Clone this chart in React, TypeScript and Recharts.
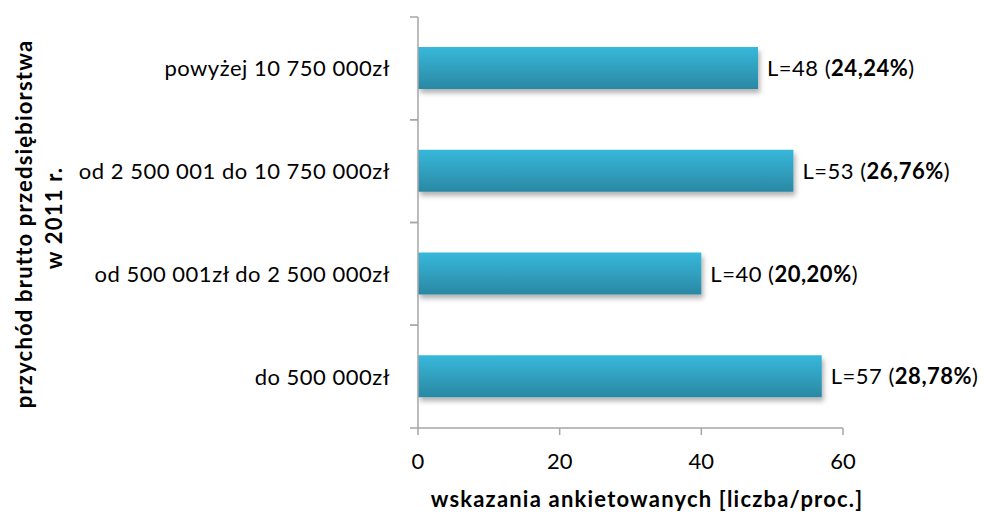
import { BarChart, Bar, XAxis, YAxis, LabelList, Label } from 'recharts';

// kolejność od góry do dołu (tak jak na wykresie)
const categories = [
  'powyżej 10 750 000zł',
  'od 2 500 001 do 10 750 000zł',
  'od 500 001zł do 2 500 000zł',
  'do 500 000zł',
];
const counts = [48, 53, 40, 57];
const percents = ['24,24%', '26,76%', '20,20%', '28,78%'];
const xTicks = [0, 20, 40, 60];

const data = categories.map((name, i) => ({ name, count: counts[i], pct: percents[i] }));

const FONT = 'Lato, "Noto Sans", sans-serif';
const AXIS = '#a6a6a6';

const CategoryTick = (props: any) => {
  const { y, payload } = props;
  const half = payload && payload.offset ? payload.offset : 51.4;
  const ax = 418;
  return (
    <g>
      <line x1={ax - 8} x2={ax} y1={y - half} y2={y - half} stroke={AXIS} strokeWidth={1.5} />
      <line x1={ax - 8} x2={ax} y1={y + half} y2={y + half} stroke={AXIS} strokeWidth={1.5} />
      <text x={390} y={y} dy={8} textAnchor="end" fontSize={22} letterSpacing={0.5} fill="#000" fontFamily={FONT}>
        {payload.value}
      </text>
    </g>
  );
};

const BarLabel = (props: any) => {
  const { x, y, width, height, index } = props;
  return (
    <text x={x + width + 9} y={y + height / 2} dy={8} fontSize={22} letterSpacing={0.5} fill="#000" fontFamily={FONT}>
      L={counts[index]} (<tspan fontWeight="bold">{percents[index]}</tspan>)
    </text>
  );
};

export default function App() {
  return (
    <div style={{ position: 'absolute', left: 0, top: 0, background: '#fff' }}>
      <BarChart
        width={983}
        height={513}
        data={data}
        layout="vertical"
        margin={{ top: 17, right: 140, bottom: 0, left: 0 }}
        barCategoryGap={0}
      >
        <defs>
          <linearGradient id="barGrad" x1="0" y1="0" x2="0" y2="1">
            <stop offset="0%" stopColor="#37b8db" />
            <stop offset="100%" stopColor="#2a88a3" />
          </linearGradient>
          <filter id="barShadow" x="-5%" y="-20%" width="110%" height="160%">
            <feDropShadow dx="2" dy="4" stdDeviation="2.5" floodColor="#000" floodOpacity="0.3" />
          </filter>
        </defs>
        <XAxis
          type="number"
          domain={[0, 60]}
          ticks={xTicks}
          height={85}
          stroke={AXIS}
          strokeWidth={1.5}
          tickSize={7}
          tickMargin={18}
          tick={{ fill: '#000', fontSize: 22, fontFamily: FONT }}
        >
          <Label
            content={() => (
              <text
                x={647}
                y={507}
                textAnchor="middle"
                fontSize={22}
                fontWeight="bold"
                letterSpacing={1.2}
                fill="#000"
                fontFamily={FONT}
              >
                wskazania ankietowanych [liczba/proc.]
              </text>
            )}
          />
        </XAxis>
        <YAxis
          type="category"
          dataKey="name"
          width={418}
          stroke={AXIS}
          strokeWidth={1.5}
          tickLine={false}
          tickSize={0}
          tickMargin={0}
          tick={(p: any) => <CategoryTick {...p} />}
        >
          <Label
            content={() => (
              <g>
                <text
                  transform="translate(32, 224) rotate(-90)"
                  textAnchor="middle"
                  fontSize={22}
                  fontWeight="bold"
                  letterSpacing={1.2}
                  fill="#000"
                  fontFamily={FONT}
                >
                  przychód brutto przedsiębiorstwa
                </text>
                <text
                  transform="translate(62, 218) rotate(-90)"
                  textAnchor="middle"
                  fontSize={22}
                  fontWeight="bold"
                  letterSpacing={1.2}
                  fill="#000"
                  fontFamily={FONT}
                >
                  w 2011 r.
                </text>
              </g>
            )}
          />
        </YAxis>
        <Bar
          dataKey="count"
          barSize={42}
          fill="url(#barGrad)"
          filter="url(#barShadow)"
          isAnimationActive={false}
        >
          <LabelList dataKey="count" content={BarLabel} />
        </Bar>
      </BarChart>
    </div>
  );
}
